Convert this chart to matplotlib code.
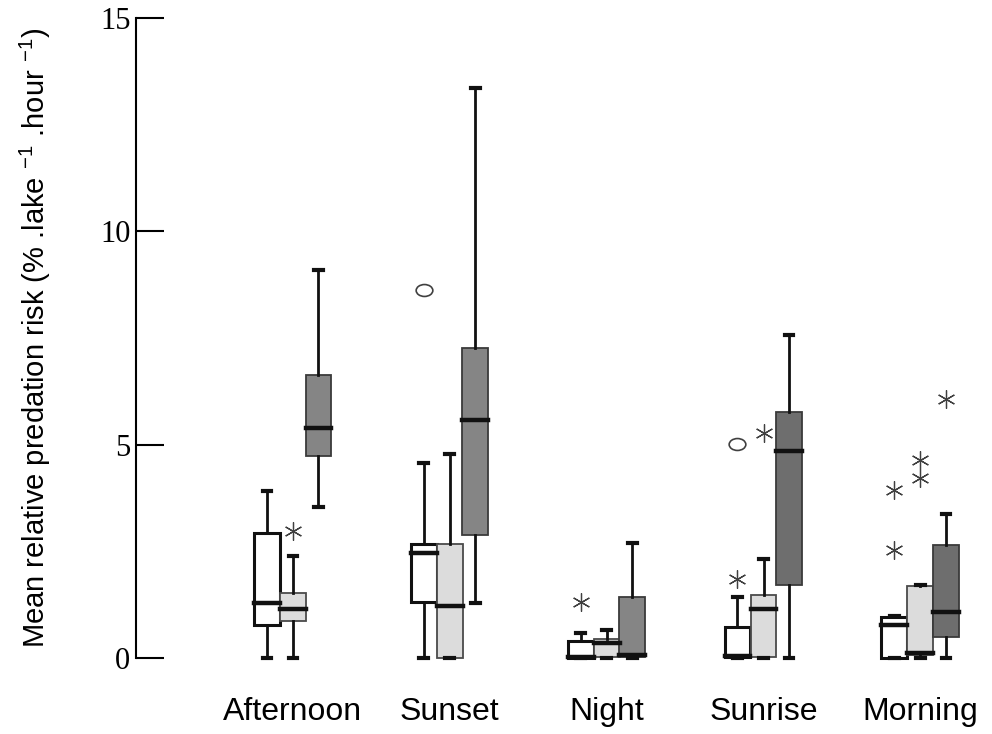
"""
Boxplots of mean relative predation risk per time of day
"""
import numpy as np
import matplotlib
matplotlib.use('Agg')
import matplotlib.pyplot as plt
from matplotlib.path import Path

plt.rcParams['font.family'] = ['Liberation Sans', 'DejaVu Sans']
plt.rcParams['mathtext.fontset'] = 'custom'
plt.rcParams['mathtext.rm'] = 'Liberation Sans'
plt.rcParams['mathtext.default'] = 'regular'

# categories
periods = ['Afternoon', 'Sunset', 'Night', 'Sunrise', 'Morning']

# box statistics, series 0 (white), 1 (light grey), 2 (dark grey)
white_whislo = [0.0, 0.0, 0.0, 0.0, 0.0]
white_q1 = [0.77, 1.31, 0.0, 0.02, 0.0]
white_med = [1.29, 2.47, 0.02, 0.05, 0.77]
white_q3 = [2.93, 2.68, 0.40, 0.72, 0.97]
white_whishi = [3.91, 4.56, 0.58, 1.44, 0.99]

light_whislo = [0.0, 0.0, 0.0, 0.0, 0.0]
light_q1 = [0.87, 0.0, 0.03, 0.03, 0.08]
light_med = [1.15, 1.22, 0.35, 1.15, 0.11]
light_q3 = [1.52, 2.68, 0.44, 1.48, 1.69]
light_whishi = [2.39, 4.78, 0.66, 2.32, 1.71]

dark_whislo = [3.54, 1.29, 0.0, 0.0, 0.0]
dark_q1 = [4.73, 2.88, 0.03, 1.70, 0.49]
dark_med = [5.39, 5.57, 0.07, 4.85, 1.07]
dark_q3 = [6.63, 7.27, 1.44, 5.77, 2.65]
dark_whishi = [9.09, 13.35, 2.70, 7.57, 3.37]

# extreme values (asterisks) and outliers (circles)
star_period = ['Afternoon', 'Night', 'Sunrise', 'Sunrise', 'Morning',
               'Morning', 'Morning', 'Morning', 'Morning']
star_series = [1, 0, 0, 1, 0, 0, 1, 1, 2]
star_value = [2.98, 1.31, 1.85, 5.27, 2.53, 3.94, 4.22, 4.64, 6.07]

circle_period = ['Sunset', 'Sunrise']
circle_series = [0, 0]
circle_value = [8.62, 5.02]

# styling
offsets = [-0.166, 0.0, 0.163]
box_width = 0.165
dark_colors = ['#858585', '#858585', '#858585', '#6e6e6e', '#6e6e6e']

fig = plt.figure(figsize=(9.92, 7.34), dpi=100)
ax = fig.add_axes([136 / 992, 76 / 734, 855 / 992, 640 / 734])

x = np.arange(1, len(periods) + 1)

series = [
    (white_whislo, white_q1, white_med, white_q3, white_whishi),
    (light_whislo, light_q1, light_med, light_q3, light_whishi),
    (dark_whislo, dark_q1, dark_med, dark_q3, dark_whishi),
]
box_face = [['white'] * 5, ['#dcdcdc'] * 5, dark_colors]
box_edge = ['#111111', '#4a4a4a', '#3a3a3a']
box_lw = [2.2, 1.3, 1.3]

for k, (lo, q1, med, q3, hi) in enumerate(series):
    stats = []
    for i in range(len(periods)):
        stats.append(dict(med=med[i], q1=q1[i], q3=q3[i],
                          whislo=lo[i], whishi=hi[i], fliers=[]))
    res = ax.bxp(stats, positions=x + offsets[k], widths=box_width,
                 capwidths=0.055, patch_artist=True, showfliers=False,
                 boxprops=dict(edgecolor=box_edge[k], linewidth=box_lw[k]),
                 medianprops=dict(color='#111111', linewidth=3.2,
                                  solid_capstyle='projecting'),
                 whiskerprops=dict(color='#111111', linewidth=2.0),
                 capprops=dict(color='#111111', linewidth=3.0))
    for i, b in enumerate(res['boxes']):
        b.set_facecolor(box_face[k][i])
    for key in res:
        for art in res[key]:
            art.set_clip_on(False)

# asterisks
sx = [periods.index(p) + 1 + offsets[s] for p, s in zip(star_period, star_series)]
ax.plot(sx, star_value, linestyle='none', marker=(6, 2, 0), markersize=13,
        markeredgecolor='#404040', markeredgewidth=0.9, clip_on=False)

# circles (drawn as flattened ellipses)
circ = Path.unit_circle()
ellipse = Path(circ.vertices * np.array([1.4, 1.0]), circ.codes)
cx = [periods.index(p) + 1 + offsets[s] for p, s in zip(circle_period, circle_series)]
ax.plot(cx, circle_value, linestyle='none', marker=ellipse, markersize=12,
        markerfacecolor='none', markeredgecolor='#404040',
        markeredgewidth=1.2, clip_on=False)

ax.set_xlim(0, 5.45)
ax.set_ylim(0, 15)
ax.set_xticks(x)
ax.set_xticklabels(periods, fontsize=23)
ax.set_yticks([0, 5, 10, 15])
ax.set_yticklabels(['0', '5', '10', '15'], fontsize=22,
                   family=['Liberation Serif', 'DejaVu Serif'])

for side in ['top', 'right', 'bottom']:
    ax.spines[side].set_visible(False)
ax.spines['left'].set_linewidth(1.5)
ax.tick_params(axis='y', direction='in', length=20, width=1.5, pad=4)
ax.tick_params(axis='x', length=0, pad=28)

ax.set_ylabel(r'Mean relative predation risk (% .lake $^{-1}$ .hour $^{-1}$)',
              fontsize=21)
ax.yaxis.set_label_coords(-0.097, 0.5)

plt.savefig('out.png', dpi=100)
